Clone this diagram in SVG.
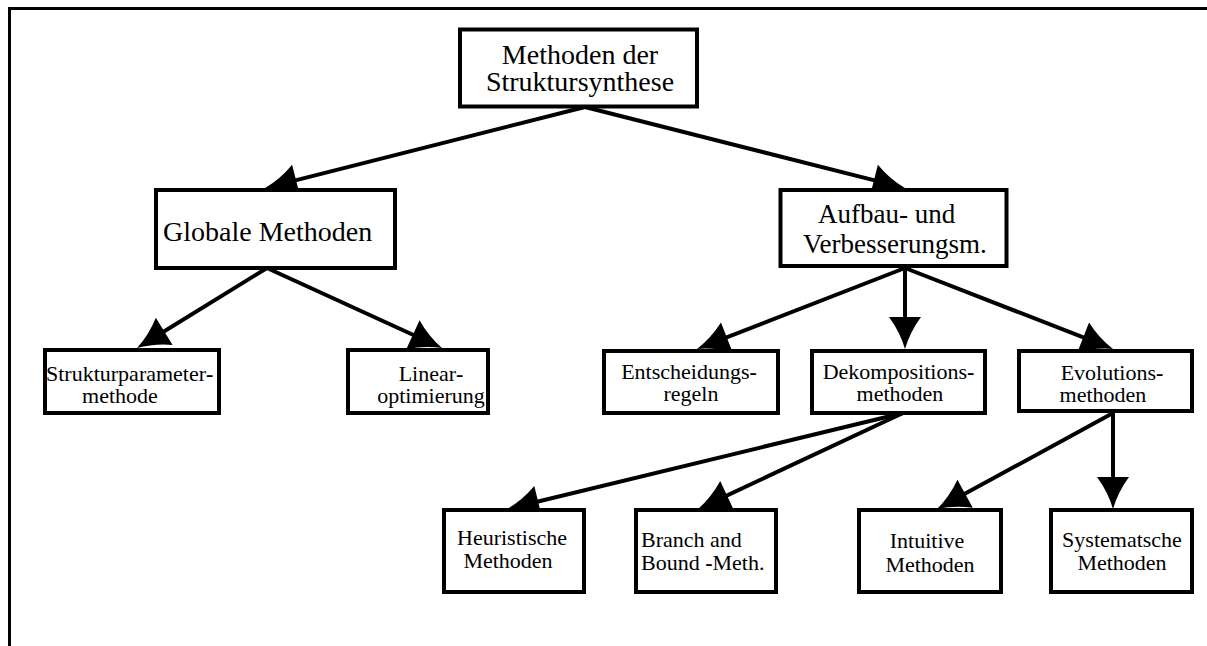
<svg xmlns="http://www.w3.org/2000/svg" width="1207" height="646" viewBox="0 0 1207 646">
  <style>
    .box { fill: #ffffff; stroke: #000000; stroke-width: 4; }
    .edge { fill: none; stroke: #000000; stroke-width: 4; marker-end: url(#head); }
    text { font-family: "Liberation Serif", "Times New Roman", serif; fill: #000000; }
    .big { font-size: 28px; }
    .mid { font-size: 27px; }
    .sm { font-size: 22px; }
    .c { text-anchor: middle; }
    .b { font-weight: bold; }
  </style>
  <defs>
    <!-- arrowhead: tip 14px beyond the line end, slightly concave flanks -->
    <marker id="head" markerUnits="userSpaceOnUse" markerWidth="60" markerHeight="40" refX="32" refY="20" orient="auto" overflow="visible">
      <path d="M46,20 Q29,15 14,4 L14,36 Q29,25 46,20 Z" fill="#000000"/>
    </marker>
  </defs>

  <rect width="1207" height="646" fill="#ffffff"/>

  <!-- page frame -->
  <path d="M9.5,646 V8.5 H1207" fill="none" stroke="#000000" stroke-width="3"/>

  <g id="connectors">
    <line class="edge" x1="585" y1="107" x2="278.6" y2="184.6"/>
    <line class="edge" x1="585" y1="107" x2="891.4" y2="184.6"/>
    <line class="edge" x1="267" y1="268" x2="148.9" y2="340.7"/>
    <line class="edge" x1="267" y1="268" x2="429.3" y2="342.2"/>
    <line class="edge" x1="905" y1="268" x2="710.0" y2="343.9"/>
    <line class="edge" x1="905" y1="268" x2="905" y2="335"/>
    <line class="edge" x1="905" y1="268" x2="1100.0" y2="343.9"/>
    <line class="edge" x1="903" y1="413" x2="520.6" y2="505.7"/>
    <line class="edge" x1="903" y1="413" x2="710.7" y2="503.1"/>
    <line class="edge" x1="1113" y1="413" x2="949.3" y2="502.3"/>
    <line class="edge" x1="1113" y1="413" x2="1113" y2="495"/>
  </g>

  <g id="n-root">
    <rect class="box" x="460" y="29.5" width="237" height="77"/>
    <text class="big c" x="580" y="64">Methoden der</text>
    <text class="big c" x="580" y="91">Struktursynthese</text>
  </g>

  <g id="n-global">
    <rect class="box" x="156" y="190" width="239" height="78"/>
    <text class="big" x="163" y="241">Globale Methoden</text>
  </g>

  <g id="n-aufbau">
    <rect class="box" x="780.5" y="190" width="226" height="76"/>
    <text class="mid" x="818" y="223">Aufbau- und</text>
    <text class="mid" x="803" y="253">Verbesserungsm.</text>
  </g>

  <g id="n-strukturparameter">
    <rect class="box" x="45" y="350" width="174" height="63"/>
    <text class="sm" x="46" y="381">Strukturparameter<tspan class="b">-</tspan></text>
    <text class="sm c" x="120" y="403">methode</text>
  </g>

  <g id="n-linear">
    <rect class="box" x="348" y="350" width="140" height="63"/>
    <text class="sm c" x="431" y="381">Linear<tspan class="b">-</tspan></text>
    <text class="sm c" x="431" y="403">optimierung</text>
  </g>

  <g id="n-entscheidung">
    <rect class="box" x="604" y="351" width="174" height="62"/>
    <text class="sm c" x="689" y="379">Entscheidungs<tspan class="b">-</tspan></text>
    <text class="sm c" x="691" y="401">regeln</text>
  </g>

  <g id="n-dekomposition">
    <rect class="box" x="812" y="351" width="173" height="62"/>
    <text class="sm c" x="898.5" y="379">Dekompositions<tspan class="b">-</tspan></text>
    <text class="sm c" x="900" y="401">methoden</text>
  </g>

  <g id="n-evolution">
    <rect class="box" x="1019" y="351" width="173" height="60"/>
    <text class="sm c" x="1112" y="379.5">Evolutions<tspan class="b">-</tspan></text>
    <text class="sm c" x="1103" y="401.5">methoden</text>
  </g>

  <g id="n-heuristisch">
    <rect class="box" x="444" y="510" width="140" height="82"/>
    <text class="sm c" x="512" y="544.5">Heuristische</text>
    <text class="sm c" x="508" y="567.5">Methoden</text>
  </g>

  <g id="n-branchbound">
    <rect class="box" x="636" y="510" width="140" height="82"/>
    <text class="sm" x="641" y="546.5">Branch and</text>
    <text class="sm" x="641" y="569.5">Bound <tspan class="b">-</tspan>Meth.</text>
  </g>

  <g id="n-intuitiv">
    <rect class="box" x="859" y="510" width="142" height="82"/>
    <text class="sm c" x="927" y="548">Intuitive</text>
    <text class="sm c" x="930" y="571.5">Methoden</text>
  </g>

  <g id="n-systematisch">
    <rect class="box" x="1051" y="510" width="141" height="82"/>
    <text class="sm c" x="1122" y="546.5">Systematsche</text>
    <text class="sm c" x="1122" y="570">Methoden</text>
  </g>
</svg>
